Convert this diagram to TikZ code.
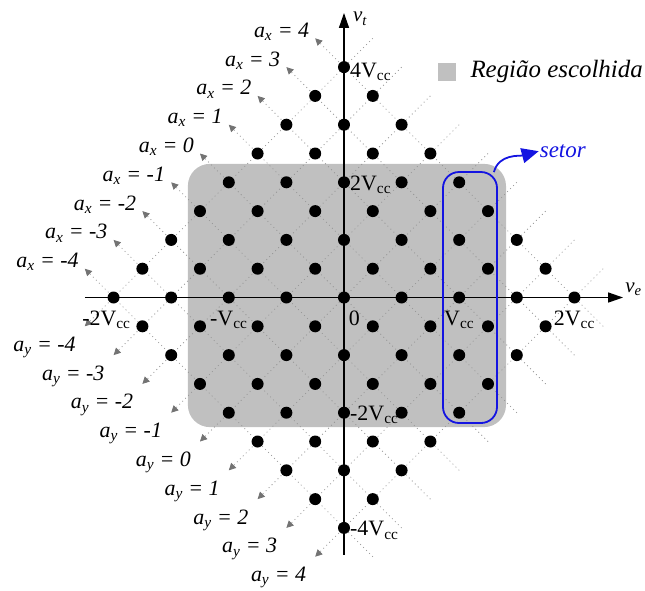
\documentclass[tikz,border=0pt]{standalone}
\usepackage{fontspec}
\setmainfont{Liberation Serif}
\usetikzlibrary{arrows.meta, positioning, calc}
\definecolor{regionGray}{RGB}{192, 192, 192}
\definecolor{gridGray}{RGB}{150, 150, 150}
\definecolor{tipGray}{RGB}{115, 115, 115}
\definecolor{sectorBlue}{RGB}{20, 20, 225}

\begin{document}
\begin{tikzpicture}[
    x=28.8bp, y=28.8bp,
    gridline/.style={
        gridGray,
        line width=0.8bp,
        dash pattern=on 0.9bp off 3.3bp,
        -{Triangle[length=7bp, width=7bp, color=tipGray]}
    },
    axis/.style={
        line width=1.4bp,
        -{Triangle[length=15bp, width=10bp]}
    },
    ticklabel/.style={
        font=\fontsize{22}{24}\selectfont,
        inner sep=0pt
    },
    axlabel/.style={
        font=\fontsize{22}{24}\selectfont\itshape,
        inner sep=0pt,
        anchor=base east,
        xshift=-6bp,
        yshift=1bp
    },
    aylabel/.style={
        font=\fontsize{22}{24}\selectfont\itshape,
        inner sep=0pt,
        anchor=base east,
        xshift=-9bp,
        yshift=-25bp
    },
    sectorbox/.style={
        rectangle,
        rounded corners=16bp,
        draw=sectorBlue,
        line width=1.8bp,
        minimum width=54bp,
        minimum height=251bp
    }
]
\useasboundingbox (-11.944,-10.156) rectangle (10.451,10.330);

% Chosen region
\fill[regionGray, rounded corners=22bp] (-5.42,-4.5) rectangle (5.625,4.64);

% Lines a_x = const and a_y = const
\foreach \k in {-4,...,4}{
    \draw[gridline] ({\k+5},{\k-5}) -- ({\k-5},{\k+5});
    \node[axlabel] (ax\k) at ({\k-5},{\k+5}) {a\textsubscript{x} = \k};
    \draw[gridline] ({5+\k},{5-\k}) -- ({\k-5},{-5-\k});
    \node[aylabel] (ay\k) at ({\k-5},{-5-\k}) {a\textsubscript{y} = \k};
}

% Axes
\coordinate (xmin) at (-9,0);
\coordinate (xmax) at (9.69,0);
\coordinate (ymin) at (0,-8.94);
\coordinate (ymax) at (0,9.88);
\draw[axis] (xmin) -- (xmax);
\draw[axis] (ymin) -- (ymax);
\node[ticklabel, font=\fontsize{21}{24}\selectfont\itshape, anchor=base west] (ve) at ([xshift=2bp, yshift=5bp]xmax) {v\textsubscript{e}};
\node[ticklabel, font=\fontsize{21}{24}\selectfont\itshape, anchor=base west] (vt) at ([xshift=9bp, yshift=-9bp]ymax) {v\textsubscript{t}};

% Sector
\node[sectorbox] (sector) at (4.375,0) {};
\node[font=\fontsize{23}{24}\selectfont\itshape, text=sectorBlue, anchor=west, inner sep=1bp] (setor) at (6.76,5.08) {setor};
\draw[sectorBlue, line width=1.8bp, -{Triangle[length=17bp, width=15bp]}] ([xshift=-4bp, yshift=-1bp]sector.north east) to[out=75, in=195] (setor.west);

% Lattice points
\foreach \p in {-4,...,4}
    \foreach \q in {-4,...,4}
        \fill ({\p+\q},{\p-\q}) circle (6bp);

% Tick labels
\node[ticklabel, anchor=base west] (t4) at ([xshift=6bp, yshift=-10bp]0,8) {4V\textsubscript{cc}};
\node[ticklabel, anchor=base west] (t2) at ([xshift=6bp, yshift=-8bp]0,4) {2V\textsubscript{cc}};
\node[ticklabel, anchor=base west] (tm2) at ([xshift=6bp, yshift=-8bp]0,-4) {-2V\textsubscript{cc}};
\node[ticklabel, anchor=base west] (tm4) at ([xshift=6bp, yshift=-8bp]0,-8) {-4V\textsubscript{cc}};
\node[ticklabel, anchor=base] (t0) at (0.36,-0.955) {0};
\node[ticklabel, anchor=base] (e1) at (4,-0.955) {V\textsubscript{cc}};
\node[ticklabel, anchor=base] (e2) at (8,-0.955) {2V\textsubscript{cc}};
\node[ticklabel, anchor=base] (em1) at (-4,-0.955) {-V\textsubscript{cc}};
\node[ticklabel, anchor=base] (em2) at (-8.25,-0.955) {-2V\textsubscript{cc}};

% Legend
\node[fill=regionGray, minimum size=18bp, inner sep=0pt] (legendbox) at (3.58,7.83) {};
\node[font=\fontsize{25}{27}\selectfont\itshape, inner sep=0pt, right=14bp of legendbox] (legendtext) {Região escolhida};

\end{tikzpicture}
\end{document}
